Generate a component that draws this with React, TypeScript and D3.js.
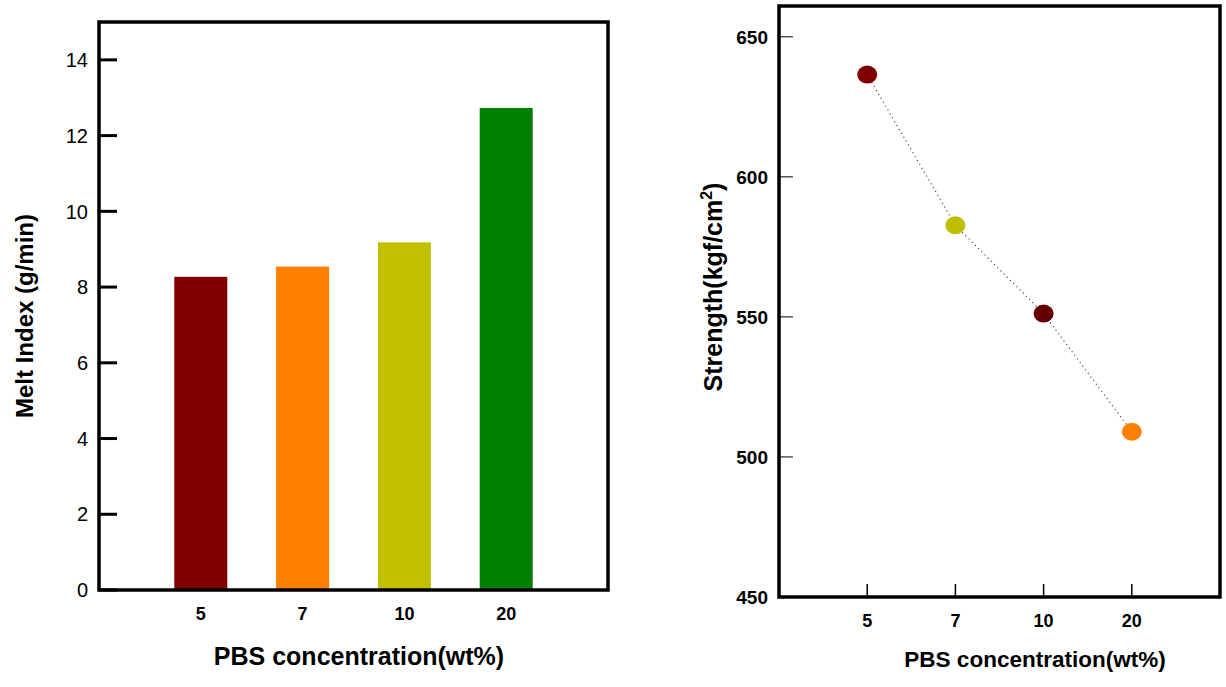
import React from "react";
import * as d3 from "d3";

const categories = ["5", "7", "10", "20"];
const meltIndex = [8.27, 8.54, 9.18, 12.73];
const barColors = ["#800000", "#ff8000", "#c0c000", "#008000"];
const strength = [636.5, 582.7, 551.2, 509.0];
const pointColors = ["#800000", "#bfbf00", "#640000", "#ff8000"];
const leftTicks = [0, 2, 4, 6, 8, 10, 12, 14];
const rightTicks = [450, 500, 550, 600, 650];

const FONT = "Arial, 'Liberation Sans', sans-serif";

export default function App() {
  // Left chart
  const L = { x0: 99, x1: 608, y0: 22, y1: 590 };
  const lx = d3.scaleLinear().domain([0, 5]).range([L.x0, L.x1]);
  const ly = d3.scaleLinear().domain([0, 15]).range([L.y1, L.y0]);
  const barW = 53;

  // Right chart
  const R = { x0: 779, x1: 1220, y0: 6, y1: 597 };
  const rx = d3.scaleLinear().domain([0, 5]).range([R.x0, R.x1]);
  const ry = d3.scaleLinear().domain([450, 661]).range([R.y1, R.y0]);

  const line = d3
    .line<number>()
    .x((_, i) => rx(i + 1))
    .y((d) => ry(d));

  return (
    <svg width={1226} height={687} style={{ position: "absolute", left: 0, top: 0, background: "#fff" }}>
      <rect width={1226} height={687} fill="#fff" />
      {/* LEFT CHART */}
      {meltIndex.map((v, i) => (
        <rect
          key={i}
          x={lx(i + 1) - barW / 2}
          y={ly(v)}
          width={barW}
          height={ly(0) - ly(v)}
          fill={barColors[i]}
        />
      ))}
      {leftTicks.map((t) => (
        <g key={t}>
          <line x1={L.x0} x2={L.x0 + 18} y1={ly(t)} y2={ly(t)} stroke="#000" strokeWidth={3} />
          <text x={88} y={ly(t)} dy="0.36em" textAnchor="end" fontFamily={FONT} fontSize={20}>
            {t}
          </text>
        </g>
      ))}
      <rect x={L.x0} y={L.y0} width={L.x1 - L.x0} height={L.y1 - L.y0} fill="none" stroke="#000" strokeWidth={3.5} />
      {categories.map((c, i) => (
        <text key={c} x={lx(i + 1)} y={620} textAnchor="middle" fontFamily={FONT} fontWeight="bold" fontSize={18}>
          {c}
        </text>
      ))}
      <text x={359} y={665} textAnchor="middle" fontFamily={FONT} fontWeight="bold" fontSize={25}>
        PBS concentration(wt%)
      </text>
      <text
        transform={`translate(33,316) rotate(-90)`}
        textAnchor="middle"
        fontFamily={FONT}
        fontWeight="bold"
        fontSize={24}
      >
        Melt Index (g/min)
      </text>

      {/* RIGHT CHART */}
      <rect x={R.x0} y={R.y0} width={R.x1 - R.x0} height={R.y1 - R.y0} fill="none" stroke="#000" strokeWidth={3.5} />
      {rightTicks.map((t) => (
        <g key={t}>
          <line x1={R.x0} x2={R.x0 + 14} y1={ry(t)} y2={ry(t)} stroke="#000" strokeWidth={1} />
          <text x={768} y={ry(t)} dy="0.36em" textAnchor="end" fontFamily={FONT} fontWeight="bold" fontSize={19}>
            {t}
          </text>
        </g>
      ))}
      {categories.map((c, i) => (
        <g key={c}>
          <line x1={rx(i + 1)} x2={rx(i + 1)} y1={R.y1} y2={R.y1 - 13} stroke="#000" strokeWidth={1.5} />
          <text x={rx(i + 1)} y={627} textAnchor="middle" fontFamily={FONT} fontWeight="bold" fontSize={18}>
            {c}
          </text>
        </g>
      ))}
      <path d={line(strength) || ""} fill="none" stroke="#333" strokeWidth={1.2} strokeDasharray="1 3.5" />
      {strength.map((v, i) => (
        <ellipse key={i} cx={rx(i + 1)} cy={ry(v)} rx={10} ry={9} fill={pointColors[i]} />
      ))}
      <text x={1035} y={667} textAnchor="middle" fontFamily={FONT} fontWeight="bold" fontSize={22.5}>
        PBS concentration(wt%)
      </text>
      <text
        transform={`translate(722,287) rotate(-90)`}
        textAnchor="middle"
        fontFamily={FONT}
        fontWeight="bold"
        fontSize={25}
      >
        Strength(kgf/cm
        <tspan dy={-10} fontSize={16}>2</tspan>
        <tspan dy={10}>)</tspan>
      </text>
    </svg>
  );
}
